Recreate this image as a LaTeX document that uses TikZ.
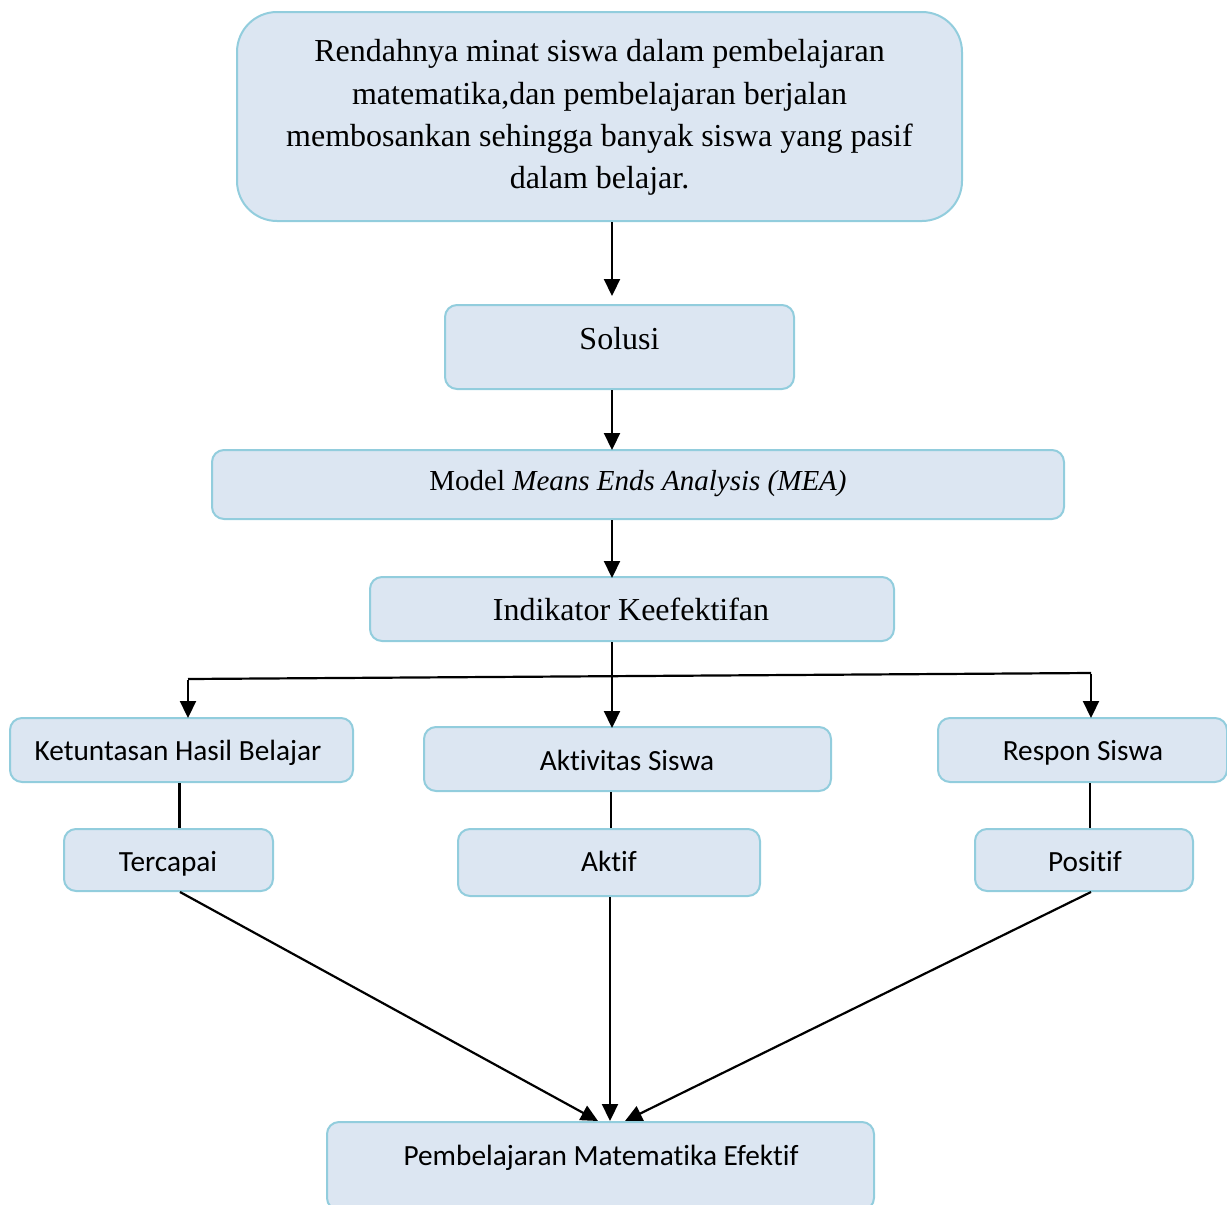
\documentclass[tikz,border=0pt]{standalone}
\usepackage{fontspec}
\setmainfont{Liberation Serif}
\newfontfamily\carlitofont[Ligatures={NoCommon}]{Carlito}
\usetikzlibrary{arrows.meta}
\definecolor{boxfill}{RGB}{220,230,242}
\definecolor{boxline}{RGB}{146,205,221}
\begin{document}
\begin{tikzpicture}[x=1pt,y=-1pt,
  box/.style={draw=boxline, fill=boxfill, line width=2pt, rounded corners=12pt, inner sep=0pt},
  serif/.style={font=\fontsize{32}{42.3}\selectfont, inner sep=0pt},
  sans/.style={font=\carlitofont\fontsize{29.3}{34}\selectfont, inner sep=0pt, anchor=base},
  arr/.style={line width=2.2pt, -{Triangle[length=17pt,width=16pt]}},
  ln/.style={line width=2.2pt}]
\useasboundingbox (0,0) rectangle (1227,1205);

% boxes
\node[box, rounded corners=40pt, minimum width=725pt, minimum height=209pt] (prob) at (599.5,116.5) {};
\node[box, minimum width=349pt, minimum height=84pt] (sol) at (619.5,347) {};
\node[box, minimum width=852pt, minimum height=69pt] (mea) at (638,484.5) {};
\node[box, minimum width=524pt, minimum height=64pt] (ind) at (632,609) {};
\node[box, minimum width=343pt, minimum height=64pt] (ket) at (181.5,750) {};
\node[box, minimum width=407pt, minimum height=64pt] (akt) at (627.5,759) {};
\node[box, minimum width=289pt, minimum height=64pt] (res) at (1082.5,750) {};
\node[box, minimum width=209pt, minimum height=62pt] (ter) at (168.5,860) {};
\node[box, minimum width=302pt, minimum height=67pt] (aktif) at (609,862.5) {};
\node[box, minimum width=218pt, minimum height=62pt] (pos) at (1084,860) {};
\node[box, minimum width=547pt, minimum height=88pt] (bot) at (600.5,1166) {};

% texts
\node[serif, align=center] (probtxt) at (599.5,117.5)
  {Rendahnya minat siswa dalam pembelajaran\\
   matematika,dan pembelajaran berjalan\\
   membosankan sehingga banyak siswa yang pasif\\
   dalam belajar.};
\node[serif, anchor=base] (soltxt) at (619.5,349.5) {Solusi};
\node[serif, anchor=base, font=\fontsize{29}{34}\selectfont] (meatxt) at (638,490) {Model \textit{Means Ends Analysis (MEA)}};
\node[serif, anchor=base] (indtxt) at (631,620) {Indikator Keefektifan};
\node[sans] (kettxt) at (178,760) {Ketuntasan Hasil Belajar};
\node[sans] (akttxt) at (627,770) {Aktivitas Siswa};
\node[sans] (restxt) at (1083,760) {Respon Siswa};
\node[sans] (tertxt) at (168,871) {Tercapai};
\node[sans] (aktiftxt) at (609,871) {Aktif};
\node[sans] (postxt) at (1085,871) {Positif};
\node[sans] (bottxt) at (601,1165) {Pembelajaran Matematika Efektif};

% connector guides
\coordinate (spine) at (612,0);
\coordinate (hL) at (188,679);
\coordinate (hR) at (1091,673);
\coordinate (lk) at (179.5,0);
\coordinate (rk) at (1090,0);
\coordinate (b1) at (598,1121);
\coordinate (b2) at (610,1121);
\coordinate (b3) at (625,1121);

% vertical spine arrows
\draw[arr, shorten >=8pt] (prob.south -| spine) -- (sol.north -| spine);
\draw[arr] (sol.south -| spine) -- ([yshift=-1pt]mea.north -| spine);
\draw[arr] (mea.south -| spine) -- ([yshift=-2pt]ind.north -| spine);
\draw[arr] (ind.south -| spine) -- ([yshift=-2pt]akt.north -| spine);

% branch line
\draw[ln] (hL) -- (hR);
\draw[arr] ([yshift=-1pt]hL) -- ([yshift=-1pt]ket.north -| hL);
\draw[arr] ([yshift=-1pt]hR) -- ([yshift=-1pt]res.north -| hR);

% plain links
\draw[ln] (ket.south -| lk) -- (ter.north -| lk);
\draw[ln] (akt.south -| spine) ++(-1,0) -- ([xshift=-1pt]aktif.north -| spine);
\draw[ln] (res.south -| rk) -- (pos.north -| rk);

% converging arrows
\draw[arr] ([xshift=11.5pt]ter.south) -- (b1);
\draw[arr] (aktif.south -| b2) -- (b2);
\draw[arr] ([xshift=7pt]pos.south) -- (b3);
\end{tikzpicture}
\end{document}
